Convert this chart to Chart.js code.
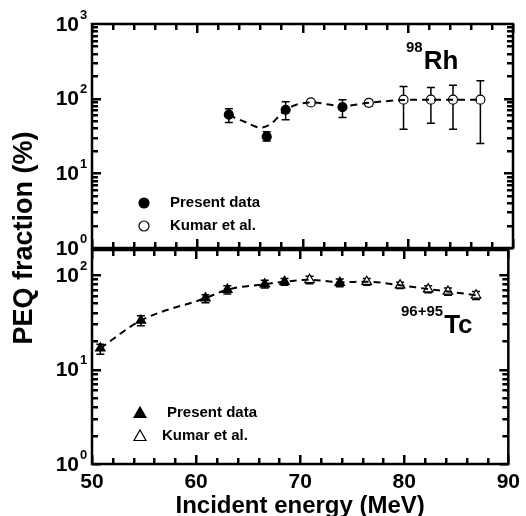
<!DOCTYPE html>
<html>
<head>
<meta charset="utf-8">
<script src="https://cdn.jsdelivr.net/npm/chart.js@4.4.0/dist/chart.umd.min.js"></script>
<style>
html, body { margin: 0; padding: 0; background: #fff; }
#wrap { position: relative; width: 526px; height: 516px; }
canvas { position: absolute; left: 0; top: 0; }
</style>
</head>
<body>
<div id="wrap">
  <canvas id="topChart" width="526" height="516"></canvas>
  <canvas id="bottomChart" width="526" height="516"></canvas>
</div>
<script>
const FONT = '"Liberation Sans", Arial, sans-serif';

// 98Rh panel
const rhPresentX = [63.0, 66.6, 68.4, 73.8];
const rhPresentY = [61, 31, 71, 77];
const rhPresentLo = [48, 27, 52, 56];
const rhPresentHi = [73, 36, 91, 97];

const rhKumarX = [70.8, 76.3, 79.6, 82.2, 84.3, 86.9];
const rhKumarY = [89, 88, 97, 97, 97, 97];
const rhKumarLo = [82, 80, 39, 47, 39, 25];
const rhKumarHi = [96, 96, 146, 141, 151, 174];

const rhCurveX = [63.0, 64.5, 66.0, 67.0, 68.4, 70.8, 73.8, 76.3, 79.6, 82.2, 84.3, 86.9];
const rhCurveY = [60, 49, 41, 46, 71, 89, 80, 88, 96, 97, 97, 97];

// 96+95Tc panel
const tcPresentX = [50.8, 54.7, 60.9, 63.0, 66.6, 68.5, 73.8];
const tcPresentY = [16.8, 33, 57, 70, 80, 85, 83];
const tcPresentLo = [14.5, 29, 51, 63, 73, 78, 75];
const tcPresentHi = [18.5, 37, 62, 77, 88, 92, 91];

const tcKumarX = [70.9, 76.4, 79.6, 82.3, 84.2, 86.9];
const tcKumarY = [89, 85, 78, 71, 67, 61];
const tcKumarLo = [81, 78, 72, 65, 61, 55];
const tcKumarHi = [97, 92, 84, 77, 73, 67];

const tcCurveX = [50.8, 54.7, 60.9, 63.0, 66.6, 68.5, 70.9, 73.8, 76.4, 79.6, 82.3, 84.2, 86.9];
const tcCurveY = [16.8, 33, 57, 70, 80, 85, 89, 84, 85, 78, 71, 67, 61];

const xTicks = [50, 60, 70, 80, 90];
const xMinorStep = 2;

function pts(xs, ys, lo, hi) {
  return xs.map((x, i) => ({ x: x, y: ys[i], lo: lo ? lo[i] : null, hi: hi ? hi[i] : null }));
}

function markers(label, xs, ys, lo, hi, style, filled) {
  return {
    label: label,
    data: pts(xs, ys, lo, hi),
    pointStyle: style,
    pointRadius: style === 'triangle' ? 5.5 : 4.5,
    backgroundColor: filled ? '#000' : '#fff',
    borderColor: '#000',
    pointBorderWidth: 1.2,
    showLine: false,
    order: 2
  };
}

function curve(xs, ys) {
  return {
    label: 'fit',
    data: pts(xs, ys),
    showLine: true,
    pointRadius: 0,
    borderColor: '#000',
    borderWidth: 2,
    borderDash: [7, 5],
    cubicInterpolationMode: 'monotone',
    order: 1
  };
}

const errorBars = {
  id: 'errorBars',
  beforeDatasetsDraw(chart) {
    const ctx = chart.ctx;
    const ys = chart.scales.y, xs = chart.scales.x;
    ctx.save();
    ctx.strokeStyle = '#000';
    ctx.lineWidth = 1.5;
    chart.data.datasets.forEach(ds => {
      ds.data.forEach(p => {
        if (p.lo == null) return;
        const px = xs.getPixelForValue(p.x);
        const y1 = ys.getPixelForValue(p.lo);
        const y2 = ys.getPixelForValue(p.hi);
        ctx.beginPath();
        ctx.moveTo(px, y1); ctx.lineTo(px, y2);
        ctx.moveTo(px - 4, y1); ctx.lineTo(px + 4, y1);
        ctx.moveTo(px - 4, y2); ctx.lineTo(px + 4, y2);
        ctx.stroke();
      });
    });
    ctx.restore();
  }
};

function drawMarker(ctx, style, filled, x, y) {
  ctx.beginPath();
  if (style === 'circle') {
    ctx.arc(x, y, 5, 0, Math.PI * 2);
  } else {
    ctx.moveTo(x, y - 6);
    ctx.lineTo(x + 6, y + 4.5);
    ctx.lineTo(x - 6, y + 4.5);
    ctx.closePath();
  }
  ctx.fillStyle = filled ? '#000' : '#fff';
  ctx.fill();
  ctx.lineWidth = 1.2;
  ctx.strokeStyle = '#000';
  ctx.stroke();
}

const frame = {
  id: 'frame',
  afterDraw(chart, args, opts) {
    const ctx = chart.ctx;
    const a = chart.chartArea;
    const xs = chart.scales.x, ys = chart.scales.y;
    const yMax = ys.max;
    ctx.save();
    ctx.setLineDash([]);
    ctx.strokeStyle = '#000';
    ctx.lineWidth = 2.5;
    ctx.strokeRect(a.left, a.top, a.right - a.left, a.bottom - a.top);

    // inward ticks on all four sides
    ctx.fillStyle = '#000';
    for (let v = xs.min; v <= xs.max; v += xMinorStep) {
      const px = Math.round(xs.getPixelForValue(v));
      const len = v % 10 === 0 ? 9 : 6;
      ctx.fillRect(px - 1, a.bottom - len, 2.5, len);
      ctx.fillRect(px - 1, a.top, 2.5, len);
    }
    for (let d = 0; d < 3; d++) {
      for (let m = 1; m <= 9; m++) {
        const v = m * Math.pow(10, d);
        if (v > yMax) break;
        const py = Math.round(ys.getPixelForValue(v));
        const len = m === 1 ? 9 : 6;
        ctx.fillRect(a.left, py - 1, len, 2.5);
        ctx.fillRect(a.right - len, py - 1, len, 2.5);
      }
    }

    // y tick labels with superscript exponents
    opts.decades.forEach(e => {
      const py = ys.getPixelForValue(Math.pow(10, e));
      ctx.font = 'bold 21px ' + FONT;
      ctx.textAlign = 'right';
      ctx.textBaseline = 'middle';
      ctx.fillText('10', 79, py + 1);
      ctx.font = 'bold 13px ' + FONT;
      ctx.textAlign = 'left';
      ctx.fillText(String(e), 80, py - 9);
    });

    // legend
    opts.legend.forEach(item => {
      drawMarker(ctx, item.style, item.filled, item.mx, item.y);
      ctx.fillStyle = '#000';
      ctx.font = 'bold 15px ' + FONT;
      ctx.textAlign = 'left';
      ctx.textBaseline = 'middle';
      ctx.fillText(item.text, item.tx, item.y);
    });

    // nuclide label
    const n = opts.nuclide;
    ctx.font = 'bold 15px ' + FONT;
    ctx.textAlign = 'left';
    ctx.textBaseline = 'middle';
    ctx.fillText(n.mass, n.x, n.y - 14);
    const w = ctx.measureText(n.mass).width;
    ctx.font = 'bold 26px ' + FONT;
    ctx.fillText(n.sym, n.x + w + 1, n.y);

    if (opts.titles) {
      ctx.font = 'bold 24px ' + FONT;
      ctx.textAlign = 'center';
      ctx.textBaseline = 'middle';
      ctx.fillText('Incident energy (MeV)', (a.left + a.right) / 2, 506);
      ctx.font = 'bold 27px ' + FONT;
      ctx.save();
      ctx.translate(25, 238);
      ctx.rotate(-Math.PI / 2);
      ctx.fillText('PEQ fraction (%)', 0, 0);
      ctx.restore();
    }
    ctx.restore();
  }
};

function makeChart(id, datasets, yMax, padTop, xHeight, showX, frameOpts) {
  return new Chart(document.getElementById(id), {
    type: 'scatter',
    data: { datasets: datasets },
    plugins: [errorBars, frame],
    options: {
      responsive: false,
      animation: false,
      layout: { padding: { top: padTop, right: 13, left: 0, bottom: 0 } },
      plugins: { legend: { display: false }, tooltip: { enabled: false }, frame: frameOpts },
      scales: {
        x: {
          type: 'linear', min: 50, max: 90,
          afterBuildTicks: s => { s.ticks = xTicks.map(v => ({ value: v })); },
          grid: { display: false, drawTicks: false },
          border: { display: false },
          ticks: {
            display: showX, padding: 6, color: '#000',
            font: { family: FONT, size: 21, weight: 'bold' }
          },
          afterFit: s => { s.height = xHeight; }
        },
        y: {
          type: 'logarithmic', min: 1, max: yMax,
          grid: { display: false, drawTicks: false },
          border: { display: false },
          ticks: { display: false },
          afterFit: s => { s.width = 92; }
        }
      }
    }
  });
}

makeChart('topChart', [
  curve(rhCurveX, rhCurveY),
  markers('Present data', rhPresentX, rhPresentY, rhPresentLo, rhPresentHi, 'circle', true),
  markers('Kumar et al.', rhKumarX, rhKumarY, rhKumarLo, rhKumarHi, 'circle', false)
], 1000, 24, 516 - 248, false, {
  decades: [0, 1, 2, 3],
  legend: [
    { style: 'circle', filled: true, mx: 144, tx: 170, y: 203, text: 'Present data' },
    { style: 'circle', filled: false, mx: 144, tx: 170, y: 226, text: 'Kumar et al.' }
  ],
  nuclide: { mass: '98', sym: 'Rh', x: 406, y: 62 },
  titles: false
});

makeChart('bottomChart', [
  curve(tcCurveX, tcCurveY),
  markers('Present data', tcPresentX, tcPresentY, tcPresentLo, tcPresentHi, 'triangle', true),
  markers('Kumar et al.', tcKumarX, tcKumarY, tcKumarLo, tcKumarHi, 'triangle', false)
], 184, 250, 516 - 464, true, {
  decades: [0, 1, 2],
  legend: [
    { style: 'triangle', filled: true, mx: 140, tx: 167, y: 413, text: 'Present data' },
    { style: 'triangle', filled: false, mx: 140, tx: 162, y: 436, text: 'Kumar et al.' }
  ],
  nuclide: { mass: '96+95', sym: 'Tc', x: 401, y: 326 },
  titles: true
});
</script>
</body>
</html>
